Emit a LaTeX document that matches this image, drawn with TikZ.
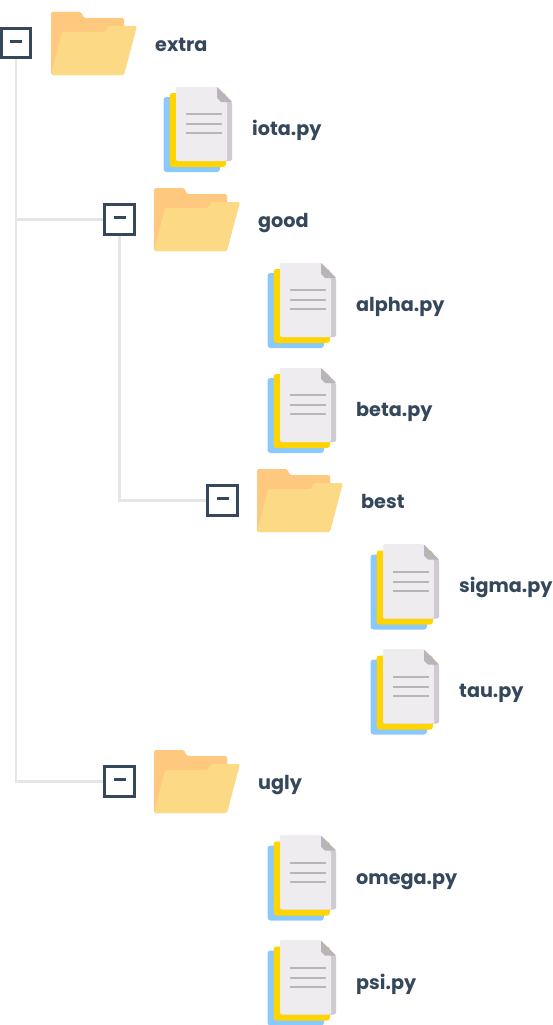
\documentclass[tikz,border=0pt]{standalone}
\usepackage{fontspec}
\setmainfont{Poppins}
\definecolor{navy}{HTML}{34475B}
\definecolor{folderback}{HTML}{FEC97F}
\definecolor{folderfront}{HTML}{FBD985}
\definecolor{sheetblue}{HTML}{8AC9FE}
\definecolor{sheetgold}{HTML}{FFD400}
\definecolor{sheetpage}{HTML}{EEECEF}
\definecolor{sheetedge}{HTML}{CFCAD0}
\definecolor{sheetfold}{HTML}{B9B3BA}
\definecolor{treegrey}{HTML}{E6E6E6}
\tikzset{
  treeline/.style={draw=treegrey,line width=2.8pt},
  togglebox/.style={draw=navy,fill=white,line width=3pt,minimum size=29.5pt,inner sep=0pt,text=navy},
  itemlabel/.style={anchor=base west,inner sep=0pt,text=navy,font=\fontsize{19.2}{23}\selectfont\bfseries},
  folder/.pic={
    \fill[folderback,rounded corners=1.5pt] (0,63) -- (0,0) -- (30,0) -- (33,6) -- (73,6) -- (73,63) -- cycle;
    \fill[folderfront,rounded corners=1.5pt] (0,63) -- (11,20) -- (54,20) -- (57,14) -- (86,14) -- (73,63) -- cycle;
  },
  sheets/.pic={
    \fill[sheetblue,rounded corners=3pt] (0.5,10) rectangle (57,85);
    \fill[sheetgold,rounded corners=3pt] (6.5,6) rectangle (63,80);
    \fill[sheetedge,rounded corners=2pt] (13,0) -- (54,0) -- (69,15) -- (69,74) -- (13,74) -- cycle;
    \fill[sheetpage,rounded corners=2pt] (13,0) -- (54,0) -- (64,15) -- (64,74) -- (13,74) -- cycle;
    \fill[sheetfold] (54,0) -- (69,15) -- (58,15) -- (54,11) -- cycle;
    \foreach \yy in {27,37,46}
      \draw[sheetfold,line width=2pt] (23,\yy) -- (59,\yy);
  },
}
\begin{document}
\begin{tikzpicture}[x=1pt,y=-1pt]
  \useasboundingbox (0,0) rectangle (553,1025);
  % toggles
  \node[togglebox] (extrabox) at (16,43) {\rule[3.1pt]{12pt}{3pt}};
  \node[togglebox] (goodbox) at (119.5,219.5) {\rule[3.1pt]{12pt}{3pt}};
  \node[togglebox] (bestbox) at (222.5,500.5) {\rule[3.1pt]{12pt}{3pt}};
  \node[togglebox] (uglybox) at (119.5,781.5) {\rule[3.1pt]{12pt}{3pt}};
  \draw[treeline] (extrabox) |- (goodbox);
  \draw[treeline] (extrabox) |- (uglybox);
  \draw[treeline] (goodbox) |- (bestbox);
  % folders
  \pic at (51,12) {folder};
  \pic at (154,188) {folder};
  \pic at (257,469) {folder};
  \pic at (154,750) {folder};
  % files
  \pic at (163,87) {sheets};
  \pic at (267,263) {sheets};
  \pic at (267,368) {sheets};
  \pic at (370,544.5) {sheets};
  \pic at (370,649.5) {sheets};
  \pic at (267,835.5) {sheets};
  \pic at (267,940.5) {sheets};
  % labels
  \node[itemlabel] (extra) at (155,51.7) {extra};
  \node[itemlabel] (iota) at (252,135.7) {iota.py};
  \node[itemlabel] (good) at (258,227.7) {good};
  \node[itemlabel] (alpha) at (356,311.7) {alpha.py};
  \node[itemlabel] (beta) at (356,416.7) {beta.py};
  \node[itemlabel] (best) at (361,508.7) {best};
  \node[itemlabel] (sigma) at (459,592.7) {sigma.py};
  \node[itemlabel] (tau) at (459,697.7) {tau.py};
  \node[itemlabel] (ugly) at (258,789.7) {ugly};
  \node[itemlabel] (omega) at (356,884.7) {omega.py};
  \node[itemlabel] (psi) at (356,989.7) {psi.py};
\end{tikzpicture}
\end{document}
